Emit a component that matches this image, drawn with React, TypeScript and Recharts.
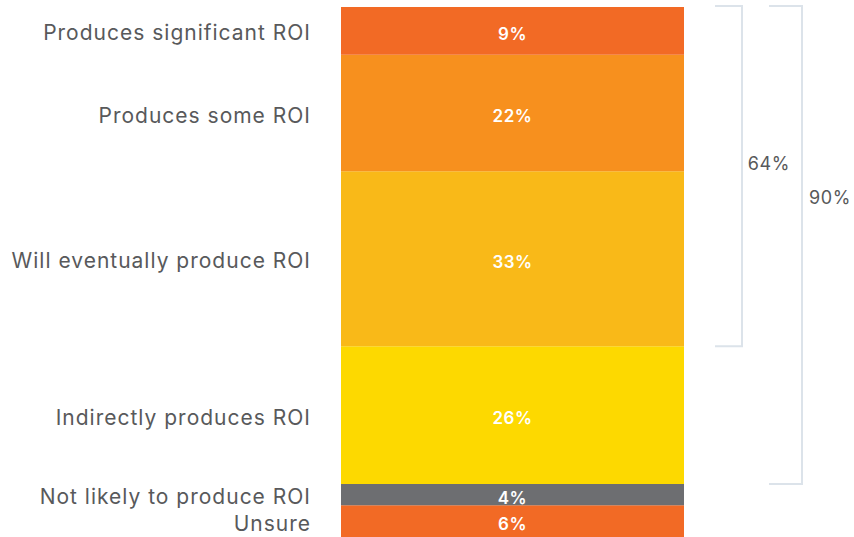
import React from "react";
import { BarChart, Bar, XAxis, YAxis, LabelList } from "recharts";

// top-down order, as in the picture
const categories = [
  "Produces significant ROI",
  "Produces some ROI",
  "Will eventually produce ROI",
  "Indirectly produces ROI",
  "Not likely to produce ROI",
  "Unsure",
];
const shares = [9, 22, 33, 26, 4, 6];
const colors = ["#F26A25", "#F7901E", "#F9B918", "#FDD900", "#6D6E71", "#F26A25"];

// brackets on the right: label and the last category they cover
const bracketLabels = ["64%", "90%"];
const bracketEnds = [2, 3];

const TEXT = "#58595B";
const FONT = "Inter, 'Noto Sans', sans-serif";

const keys = categories.map((_, i) => `s${i}`);
const row: Record<string, number | string> = { name: "ROI" };
keys.forEach((k, i) => (row[k] = shares[i]));
const data = [row];

// y ticks at the middle of each segment (stack grows from the bottom)
const ticks: number[] = [];
const tickNames: string[] = [];
{
  let base = 0;
  for (let i = categories.length - 1; i >= 0; i--) {
    ticks.push(base + shares[i] / 2);
    tickNames.push(categories[i]);
    base += shares[i];
  }
}

const bracketStyle = [
  { offset: 58, tick: 27, labelDx: 27, labelAt: 0.46 },
  { offset: 118, tick: 33, labelDx: 28, labelAt: 0.4 },
];

const CategoryTick = (props: any) => {
  const { x, y, payload } = props;
  return (
    <text
      x={x}
      y={y + 2}
      textAnchor="end"
      dominantBaseline="central"
      fill={TEXT}
      fontSize={21}
      letterSpacing={1}
      fontFamily={FONT}
    >
      {tickNames[ticks.indexOf(payload.value)]}
    </text>
  );
};

const SegmentLabel = (props: any, i: number) => {
  const vb = props.viewBox || props;
  const x = Number(vb.x ?? props.x);
  const y = Number(vb.y ?? props.y);
  const width = Number(vb.width ?? props.width);
  const height = Number(vb.height ?? props.height);
  const cx = x + width / 2;
  const cy = y + height / 2;
  const parts: React.ReactNode[] = [
    <text
      key="v"
      x={cx}
      y={cy + 3}
      textAnchor="middle"
      dominantBaseline="central"
      fill="#fff"
      fontSize={17}
      fontWeight={600}
      letterSpacing={0.5}
      fontFamily={FONT}
    >
      {`${shares[i]}%`}
    </text>,
  ];
  if (i === 0) {
    const pxPer = height / shares[0];
    const right = x + width;
    bracketLabels.forEach((lab, b) => {
      let sum = 0;
      for (let k = 0; k <= bracketEnds[b]; k++) sum += shares[k];
      const span = sum * pxPer;
      const st = bracketStyle[b];
      const xv = right + st.offset;
      parts.push(
        <path
          key={`b${b}`}
          d={`M ${xv - st.tick} ${y - 1} H ${xv} V ${y + span} H ${xv - st.tick}`}
          fill="none"
          stroke="#DCE3EA"
          strokeWidth={2}
        />,
        <text
          key={`t${b}`}
          x={xv + st.labelDx}
          y={y + span * st.labelAt}
          textAnchor="middle"
          dominantBaseline="central"
          fill={TEXT}
          fontSize={18}
          letterSpacing={0.6}
          fontFamily={FONT}
        >
          {lab}
        </text>
      );
    });
  }
  return <g>{parts}</g>;
};

export default function App() {
  const order = categories.map((_, i) => i).reverse();
  return (
    <div style={{ position: "absolute", left: 0, top: 0, background: "#fff" }}>
      <BarChart
        width={854}
        height={537}
        data={data}
        margin={{ top: 7, right: 170, bottom: 0, left: 0 }}
        barCategoryGap={0}
      >
        <XAxis dataKey="name" hide />
        <YAxis
          type="number"
          domain={[0, 100]}
          ticks={ticks}
          interval={0}
          width={341}
          axisLine={false}
          tickLine={false}
          tickSize={0}
          tickMargin={30}
          tick={<CategoryTick />}
        />
        {order.map((i) => (
          <Bar
            key={keys[i]}
            dataKey={keys[i]}
            stackId="roi"
            fill={colors[i]}
            isAnimationActive={false}
          >
            <LabelList dataKey={keys[i]} content={(p: any) => SegmentLabel(p, i)} />
          </Bar>
        ))}
      </BarChart>
    </div>
  );
}
